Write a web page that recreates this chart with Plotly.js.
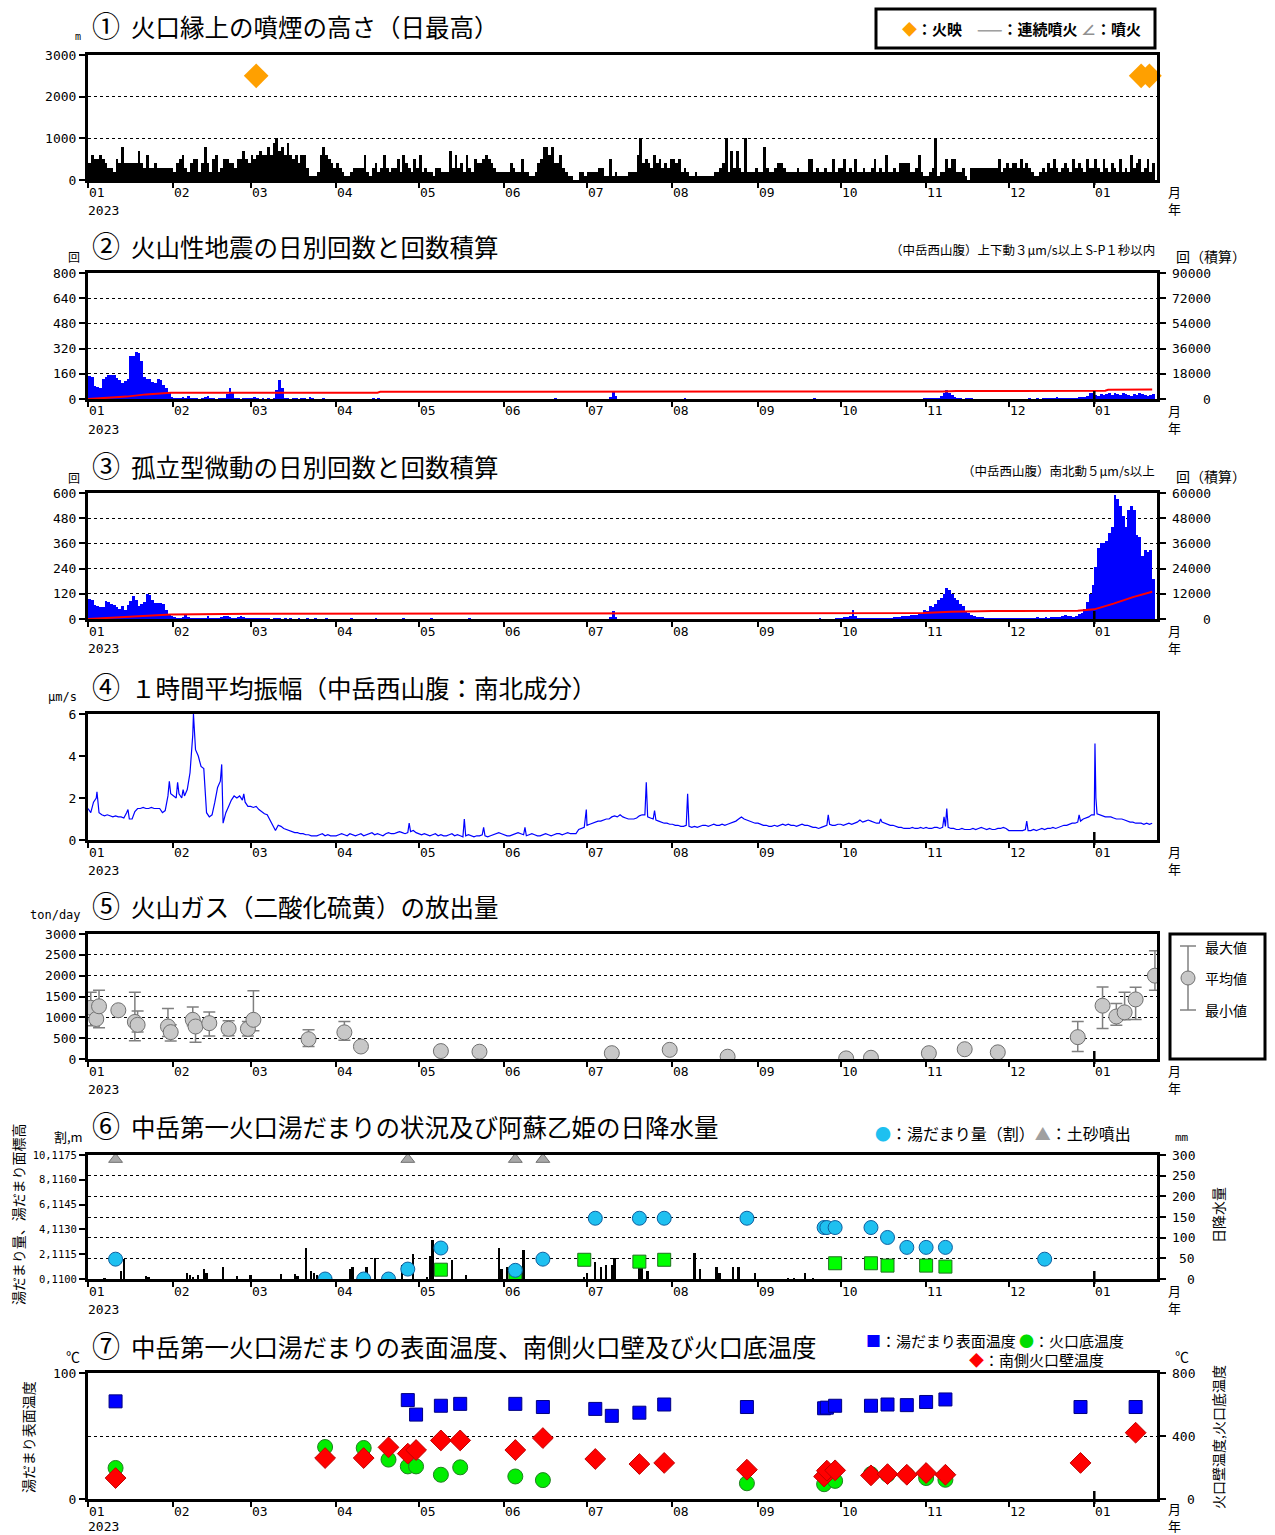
<!DOCTYPE html>
<html><head><meta charset="utf-8">
<script src="https://cdn.plot.ly/plotly-3.0.1.min.js"></script>
<style>body{margin:0;background:#fff}#chart{width:1275px;height:1535px}</style>
</head><body><div id="chart"></div>
<script>
// ---------- axis categories ----------
const monthKeys = ['2023-01','2023-02','2023-03','2023-04','2023-05','2023-06','2023-07','2023-08','2023-09','2023-10','2023-11','2023-12','2024-01'];
const monthTickVals = monthKeys.map(m => m + '-01');
const monthTickText = ['01','02','03','04','05','06','07','08','09','10','11','12','01'];

// ---------- ① plume height (daily max, m), by month ----------
const plumeHeight = [
 [400,600,500,500,600,500,400,300,300,200,500,400,800,400,400,400,400,400,700,400,300,600,300,300,400,300,300,300,300,300,300],
 [200,400,500,600,300,200,400,500,500,200,400,800,400,200,500,600,200,300,500,500,400,400,300,500,500,700,500,400],
 [600,500,600,700,600,600,800,600,900,1000,700,800,600,900,600,500,600,400,600,600,300,100,100,100,200,600,800,600,500,400,300],
 [400,300,200,100,100,200,300,300,300,300,600,200,100,300,400,200,300,600,300,200,300,300,500,200,600,400,300,200,500,300],
 [600,200,300,200,200,100,300,300,200,200,200,700,300,600,300,400,200,600,300,200,500,400,400,500,600,500,400,300,200,200,200],
 [200,200,400,300,200,200,500,200,200,100,100,200,400,500,800,800,600,800,400,400,600,300,200,100,100,0,0,200,200,100],
 [200,200,200,200,300,300,100,100,500,100,200,100,100,100,100,200,200,200,600,1000,400,500,400,300,600,400,500,300,400,300,500],
 [500,400,500,200,300,200,100,100,200,100,100,100,100,100,100,200,200,300,400,1000,200,700,300,700,300,200,1000,200,200,200,300],
 [200,200,800,300,200,200,300,400,400,300,200,200,200,200,300,200,200,200,500,500,200,300,200,200,300,200,200,500,200,300],
 [300,500,200,300,200,500,200,200,300,200,200,300,500,200,300,200,600,200,200,300,200,400,400,400,400,200,200,300,600,200,100],
 [100,200,300,1000,100,200,200,500,300,500,500,200,200,300,100,0,300,300,300,300,300,300,300,300,300,300,500,200,300,400],
 [300,400,400,300,500,300,400,300,200,100,100,200,300,200,400,300,500,300,200,300,400,300,200,500,300,400,300,200,500,300,300],
 [500,300,200,500,300,200,400,300,200,500,200,300,200,600,300,400,500,200,300,500,200,400]
];
const glowDates = ['2023-03-03','2024-01-18','2024-01-21'];
const glowHeight = [2500,2500,2500];

// ---------- ② volcanic earthquakes (daily count) ----------
const quakeCount = [
 [145,140,80,75,70,130,140,150,155,150,135,120,100,115,130,270,270,300,290,240,140,130,125,110,100,130,120,90,70,40,15],
 [8,5,6,10,5,20,6,4,5,3,4,15,18,6,4,3,5,6,5,30,70,40,5,4,3,6,8,5],
 [5,10,4,3,5,3,4,3,5,60,120,70,5,4,3,6,4,3,5,4,3,10,8,3,2,3,4,3,2,3,2],
 [2,3,2,2,3,2,2,3,2,2,3,2,2,4,3,5,3,2,2,3,2,2,3,2,2,3,2,2,3,2],
 [3,2,2,3,2,2,3,2,2,2,3,2,2,3,2,2,3,2,2,3,2,2,2,3,2,2,3,2,2,3,2],
 [2,2,3,2,2,3,2,2,3,2,2,3,2,2,3,2,2,3,5,3,2,2,3,2,2,3,2,2,3,2],
 [2,3,2,2,3,2,2,3,10,50,20,3,2,3,2,2,3,2,2,3,2,2,3,2,2,3,2,2,3,2,2],
 [2,3,2,2,5,2,2,3,2,2,3,2,2,3,2,2,3,2,2,3,2,2,3,2,2,3,2,2,3,2,2],
 [2,2,3,2,2,3,2,2,3,2,2,3,2,2,3,2,2,3,2,2,5,2,2,3,2,2,3,2,2,3],
 [2,3,2,2,3,2,2,3,2,2,3,2,2,3,2,2,3,2,2,3,2,2,3,2,2,3,2,2,3,2,5],
 [4,5,6,4,8,20,35,60,40,25,10,6,4,3,5,8,4,3,3,2,3,2,3,2,2,3,2,2,3,2],
 [3,2,3,2,3,2,3,4,3,3,4,3,5,6,4,5,8,10,6,5,7,6,5,8,7,10,12,15,20,35,40],
 [25,20,30,25,30,35,25,40,30,25,35,30,25,20,30,25,35,30,25,20,25,30]
];
const quakeCumDates = ['2023-01-01','2023-01-08','2023-01-15','2023-01-22','2023-01-31','2023-04-16','2023-04-17','2023-11-07','2023-11-12','2024-01-05','2024-01-06','2024-01-22'];
const quakeCumVals  = [0,700,1700,3300,4400,4500,5200,5300,5700,5900,6600,6800];

// ---------- ③ isolated tremor (daily count) ----------
const tremorCount = [
 [95,90,65,60,55,55,85,80,70,65,55,50,60,45,65,85,110,90,60,70,80,120,115,90,75,75,75,70,45,20,15],
 [8,6,5,10,20,8,5,4,6,5,4,6,15,5,4,6,5,10,12,15,8,6,5,10,12,8,5,4],
 [5,4,3,4,3,4,3,2,3,4,3,2,3,2,3,2,2,3,2,2,3,2,2,3,2,2,2,3,2,2,2],
 [2,1,2,1,2,3,1,2,1,2,1,2,1,2,3,1,2,1,2,1,2,1,2,1,3,1,2,1,2,1],
 [2,1,2,1,3,1,2,1,2,1,2,1,2,1,2,1,2,1,3,1,2,1,2,1,2,1,2,1,2,1,2],
 [1,2,1,2,1,2,1,2,1,2,1,2,1,2,1,2,1,2,1,2,1,2,1,2,1,2,1,2,1,2],
 [1,2,1,2,1,2,1,2,10,40,8,2,1,2,1,2,1,2,1,2,1,2,1,2,1,2,1,2,1,2,1],
 [1,2,1,2,1,2,1,2,1,2,1,2,1,2,1,2,1,2,1,2,1,2,1,2,1,2,1,2,1,2,1],
 [2,1,2,1,2,1,2,1,2,1,2,1,2,1,2,1,2,1,2,1,2,1,3,1,2,1,2,1,3,4],
 [5,8,10,12,45,15,6,5,4,5,4,5,4,6,5,4,5,6,5,8,10,10,15,15,15,20,20,20,25,30,45],
 [40,60,55,70,90,100,120,150,140,120,100,90,70,60,40,30,20,15,10,10,8,6,5,5,4,5,4,5,6,5],
 [5,6,5,6,5,4,5,6,5,6,8,7,6,8,7,8,10,8,10,12,20,15,12,10,15,25,30,50,80,120,160],
 [250,340,360,360,370,410,440,590,570,540,490,440,520,540,520,400,390,300,330,320,330,190]
];
const tremorCumDates = ['2023-01-01','2023-01-10','2023-01-20','2023-01-31','2023-03-01','2023-10-01','2023-10-31','2023-11-10','2023-11-25','2023-12-26','2024-01-01','2024-01-08','2024-01-15','2024-01-22'];
const tremorCumVals  = [0,700,1400,2200,2450,2550,2900,3500,3800,3900,4600,7300,10400,13000];

// ---------- ④ hourly mean amplitude (µm/s), daily readings + spikes ----------
const ampDaily = [
 [1.5,1.3,1.8,2.0,1.3,1.2,1.15,1.2,1.15,1.1,1.15,1.1,1.1,1.05,1.3,1.0,1.0,1.35,1.5,1.5,1.55,1.5,1.5,1.55,1.5,1.5,1.5,1.3,1.4,2.1,2.2],
 [2.1,2.0,2.2,2.0,2.1,2.4,3.2,5.0,4.3,4.0,3.5,3.4,1.3,1.1,1.2,1.8,2.5,2.8,0.8,1.3,1.6,1.9,2.1,2.0,2.1,1.9,1.8,1.6],
 [1.6,1.55,1.6,1.45,1.35,1.25,1.2,0.95,0.7,0.45,0.7,0.65,0.55,0.5,0.45,0.4,0.35,0.35,0.3,0.3,0.25,0.25,0.2,0.2,0.2,0.25,0.3,0.2,0.25,0.2,0.2],
 [0.2,0.25,0.3,0.25,0.2,0.3,0.25,0.2,0.25,0.3,0.2,0.25,0.3,0.35,0.25,0.3,0.25,0.2,0.3,0.35,0.3,0.3,0.35,0.4,0.35,0.3,0.35,0.4,0.45,0.35],
 [0.3,0.25,0.3,0.25,0.2,0.25,0.3,0.2,0.25,0.2,0.2,0.25,0.3,0.2,0.25,0.2,0.15,0.2,0.25,0.2,0.15,0.2,0.2,0.25,0.2,0.15,0.2,0.25,0.3,0.35,0.3],
 [0.25,0.2,0.2,0.25,0.3,0.35,0.3,0.25,0.2,0.25,0.3,0.25,0.2,0.2,0.25,0.3,0.25,0.2,0.25,0.3,0.3,0.25,0.3,0.35,0.3,0.3,0.3,0.5,0.55,0.6],
 [0.7,0.75,0.8,0.85,0.9,0.9,0.95,1.0,1.0,1.1,1.15,1.1,1.2,1.1,1.05,1.0,1.0,1.0,1.05,1.15,1.2,1.2,1.1,1.05,1.0,0.95,0.9,0.85,0.8,0.8,0.75],
 [0.75,0.7,0.7,0.65,0.65,0.7,0.65,0.6,0.65,0.6,0.65,0.7,0.7,0.65,0.7,0.75,0.7,0.7,0.75,0.7,0.75,0.8,0.85,0.9,1.0,1.1,1.0,0.95,0.9,0.85,0.8],
 [0.8,0.75,0.7,0.7,0.65,0.65,0.7,0.65,0.7,0.75,0.7,0.75,0.7,0.7,0.65,0.7,0.75,0.7,0.7,0.65,0.6,0.6,0.55,0.6,0.65,0.7,0.75,0.7,0.7,0.75],
 [0.75,0.7,0.75,0.8,0.75,0.8,0.85,0.95,0.85,0.9,0.95,0.9,0.85,0.8,0.8,0.85,0.8,0.75,0.7,0.7,0.65,0.6,0.6,0.55,0.55,0.55,0.6,0.55,0.55,0.6,0.55],
 [0.6,0.55,0.55,0.6,0.6,0.55,0.6,0.65,0.6,0.55,0.55,0.5,0.5,0.55,0.5,0.5,0.5,0.55,0.5,0.55,0.6,0.55,0.5,0.55,0.5,0.5,0.55,0.55,0.6,0.55],
 [0.45,0.45,0.45,0.45,0.45,0.45,0.5,0.45,0.45,0.5,0.45,0.5,0.55,0.5,0.55,0.55,0.6,0.55,0.6,0.65,0.7,0.7,0.75,0.8,0.8,0.85,0.9,1.0,1.05,1.1,1.2],
 [1.2,1.25,1.2,1.15,1.1,1.1,1.1,1.05,1.0,1.0,1.0,0.95,0.9,0.85,0.85,0.8,0.8,0.8,0.75,0.8,0.75,0.8]
];
const ampSpikeTimes = ['2023-01-04 06:00','2023-01-15 12:00','2023-01-30 12:00','2023-02-02 12:00','2023-02-04 12:00','2023-02-08 06:00','2023-02-08 18:00','2023-02-18 12:00','2023-02-26 12:00','2023-04-27 12:00','2023-05-17 12:00','2023-05-24 12:00','2023-06-08 12:00','2023-06-30 18:00','2023-07-22 12:00','2023-07-25 12:00','2023-08-06 12:00','2023-09-26 12:00','2023-10-15 12:00','2023-11-07 12:00','2023-11-08 12:00','2023-12-07 12:00','2023-12-26 12:00','2024-01-01 06:00','2024-01-01 14:00'];
const ampSpikeVals  = [2.3,1.45,2.8,2.75,2.4,6.0,5.1,3.6,2.2,0.8,1.0,0.6,0.6,1.45,2.75,1.4,2.2,1.2,1.0,1.1,1.5,0.9,1.2,4.6,2.0];

// ---------- ⑤ SO2 emission (ton/day) ----------
const so2Dates = ['2023-01-02','2023-01-04','2023-01-05','2023-01-12','2023-01-18','2023-01-19','2023-01-30','2023-01-31','2023-02-08','2023-02-09','2023-02-14','2023-02-21','2023-02-28','2023-03-02','2023-03-22','2023-04-04','2023-04-10','2023-05-09','2023-05-23','2023-07-10','2023-07-31','2023-08-21','2023-10-03','2023-10-12','2023-11-02','2023-11-15','2023-11-27','2023-12-26','2024-01-04','2024-01-09','2024-01-12','2024-01-16','2024-01-23'];
const so2Mean = [1230,960,1265,1170,890,820,780,645,940,780,860,725,725,940,475,640,300,190,175,140,220,55,15,30,140,235,160,525,1280,1020,1120,1430,2000];
const so2Max  = [1600,null,1650,null,1600,1150,1210,820,1250,900,1130,920,900,1640,700,900,null,null,null,null,null,null,null,null,null,null,null,900,1730,1330,1600,1720,2600];
const so2Min  = [800,null,750,null,440,650,540,430,800,400,550,560,550,680,300,450,null,null,null,null,null,null,null,null,null,null,null,180,730,810,940,950,1650];

// ---------- ⑥ crater lake status & rainfall ----------
const lakeDates = ['2023-01-11','2023-03-28','2023-04-11','2023-04-20','2023-04-27','2023-05-09','2023-06-05','2023-06-15','2023-07-04','2023-07-20','2023-07-29','2023-08-28','2023-09-25','2023-09-26','2023-09-29','2023-10-12','2023-10-18','2023-10-25','2023-11-01','2023-11-08','2023-12-14'];
const lakeAmount = [1.6,0,0,0,0.8,2.5,0.7,1.6,4.9,4.9,4.9,4.9,4.15,4.15,4.15,4.15,3.35,2.55,2.55,2.55,1.6];
const levelDates = ['2023-05-09','2023-06-05','2023-06-30','2023-07-20','2023-07-29','2023-09-29','2023-10-12','2023-10-18','2023-11-01','2023-11-08'];
const levelVals  = [0.75,0.45,1.55,1.4,1.55,1.27,1.27,1.08,1.08,1.0];
const mudDates = ['2023-01-11','2023-04-27','2023-06-05','2023-06-15'];
const mudVals  = [9.65,9.65,9.65,9.65];
const rainDates = ['2023-01-07','2023-01-13','2023-01-14','2023-01-22','2023-01-23','2023-02-06','2023-02-07','2023-02-08','2023-02-10','2023-02-12','2023-02-13','2023-02-19','2023-02-24','2023-03-01','2023-03-12','2023-03-17','2023-03-18','2023-03-21','2023-03-23','2023-03-24','2023-03-25','2023-03-27','2023-03-30','2023-04-06','2023-04-07','2023-04-12','2023-04-13','2023-04-15','2023-04-25','2023-04-29','2023-05-04','2023-05-05','2023-05-06','2023-05-13','2023-05-18','2023-05-30','2023-05-31','2023-06-02','2023-06-03','2023-06-05','2023-06-07','2023-06-08','2023-06-30','2023-07-01','2023-07-04','2023-07-06','2023-07-08','2023-07-10','2023-07-11','2023-07-20','2023-07-21','2023-07-23','2023-08-09','2023-08-11','2023-08-17','2023-08-18','2023-08-23','2023-08-25','2023-08-31','2023-09-12','2023-09-14','2023-09-18','2023-09-21'];
const rainVals  = [3,20,49,8,5,15,10,5,10,25,15,30,8,10,12,12,8,75,20,15,10,10,5,25,30,30,5,50,35,60,5,55,95,45,10,76,25,30,18,15,25,70,5,15,40,30,35,35,50,40,30,20,62,25,30,15,30,30,15,3,3,15,3];

// ---------- ⑦ temperatures ----------
const surfDates = ['2023-01-11','2023-04-27','2023-04-30','2023-05-09','2023-05-16','2023-06-05','2023-06-15','2023-07-04','2023-07-10','2023-07-20','2023-07-29','2023-08-28','2023-09-25','2023-09-26','2023-09-29','2023-10-12','2023-10-18','2023-10-25','2023-11-01','2023-11-08','2023-12-27','2024-01-16'];
const surfTemp  = [77.5,78.5,67,74,75.5,75.5,73,71.5,66,68.5,75,73,72,72.5,74,74,75,74.5,77,79,73,73];
const wallDates = ['2023-01-11','2023-03-28','2023-04-11','2023-04-20','2023-04-27','2023-04-30','2023-05-09','2023-05-16','2023-06-05','2023-06-15','2023-07-04','2023-07-20','2023-07-29','2023-08-28','2023-09-25','2023-09-26','2023-09-29','2023-10-12','2023-10-18','2023-10-25','2023-11-01','2023-11-08','2023-12-27','2024-01-16'];
const wallTemp  = [133,260,260,328,288,311,372,372,311,387,254,222,229,186,143,180,182,150,158,154,165,154,229,421];
const floorDates = ['2023-01-11','2023-03-28','2023-04-11','2023-04-20','2023-04-27','2023-04-30','2023-05-09','2023-05-16','2023-06-05','2023-06-15','2023-08-28','2023-09-25','2023-09-29','2023-10-12','2023-10-18','2023-10-25','2023-11-01','2023-11-08'];
const floorTemp  = [197,330,324,250,207,207,154,201,143,120,100,94,115,158,154,154,133,122];

// right-axis tick values
const cumQuakeTicks = [0,18000,36000,54000,72000,90000];
const cumTremorTicks = [0,12000,24000,36000,48000,60000];
const rainTicks = [0,50,100,150,200,250,300];
const wallTicks = [0,400,800];

// ================= build =================
const W = 1275, H = 1535;
const JP = '"Noto Sans CJK JP", sans-serif';
const MONO = '"DejaVu Sans Mono", monospace';
const X0 = 88, X1 = 1157;
const xRange = ['2023-01-01', '2024-01-23 18:00'];

function daily(nested) {
  const x = [], y = [];
  nested.forEach((arr, m) => arr.forEach((v, d) => { x.push(monthKeys[m] + '-' + String(d + 1).padStart(2, '0')); y.push(v); }));
  return {x, y};
}
const dom = (top, bot) => [1 - bot / H, 1 - top / H];
const P = [[55,180],[273,399],[493,619],[714,840],[934,1059],[1155,1279],[1373,1499]];
const XNAMES = ['x','x2','x3','x4','x5','x6','x7'];

const tickFont = {family: MONO, size: 13, color: '#000'};
function xAxis(anchor) {
  return {domain: [X0 / W, X1 / W], range: xRange, type: 'date', anchor,
    tickmode: 'array', tickvals: monthTickVals, ticktext: monthTickText, showticklabels: false,
    ticks: 'outside', ticklen: 5, tickwidth: 2, tickcolor: '#000',
    showline: true, linewidth: 3, linecolor: '#000', mirror: true,
    showgrid: false, zeroline: false, tickfont: tickFont, fixedrange: true};
}
function yAxis(p, range, tickvals, o) {
  return Object.assign({domain: dom(P[p][0], P[p][1]), range, tickmode: 'array', tickvals,
    ticks: 'outside', ticklen: 6, tickwidth: 2, tickcolor: '#000',
    showline: true, linewidth: 3, linecolor: '#000', mirror: true,
    showgrid: true, gridcolor: '#000', gridwidth: 1, griddash: 'dot',
    zeroline: false, tickfont: tickFont, fixedrange: true}, o || {});
}
function yRight(over, range, tickvals, o) {
  return Object.assign({overlaying: over, side: 'right', range, tickmode: 'array', tickvals, showticklabels: false,
    ticks: 'outside', ticklen: 6, tickwidth: 2, tickcolor: '#000',
    showline: true, linewidth: 3, linecolor: '#000',
    showgrid: false, zeroline: false, tickfont: tickFont, fixedrange: true}, o || {});
}

const plume = daily(plumeHeight), quake = daily(quakeCount), tremor = daily(tremorCount), ampD = daily(ampDaily);
const ampPts = ampD.x.map((t, i) => [t, ampD.y[i]]).concat(ampSpikeTimes.map((t, i) => [t, ampSpikeVals[i]]));
ampPts.sort((a, b) => a[0] < b[0] ? -1 : a[0] > b[0] ? 1 : 0);

const DAY = 86400000;
const traces = [
  {type: 'bar', x: plume.x, y: plume.y, xaxis: 'x', yaxis: 'y', marker: {color: '#000', line: {width: 0}}, xperiod: DAY, xperiodalignment: 'middle'},
  {type: 'scatter', mode: 'markers', x: glowDates, y: glowHeight, xaxis: 'x', yaxis: 'y', marker: {symbol: 'diamond', size: 19, color: '#ffa000'}, cliponaxis: false},

  {type: 'bar', x: quake.x, y: quake.y, xaxis: 'x2', yaxis: 'y2', marker: {color: '#0000ff', line: {width: 0}}, xperiod: DAY, xperiodalignment: 'middle'},
  {type: 'scatter', mode: 'lines', x: quakeCumDates, y: quakeCumVals, xaxis: 'x2', yaxis: 'y3', line: {color: '#ff0000', width: 2}},

  {type: 'bar', x: tremor.x, y: tremor.y, xaxis: 'x3', yaxis: 'y4', marker: {color: '#0000ff', line: {width: 0}}, xperiod: DAY, xperiodalignment: 'middle'},
  {type: 'scatter', mode: 'lines', x: tremorCumDates, y: tremorCumVals, xaxis: 'x3', yaxis: 'y5', line: {color: '#ff0000', width: 2}},

  {type: 'scatter', mode: 'lines', x: ampPts.map(p => p[0]), y: ampPts.map(p => p[1]), xaxis: 'x4', yaxis: 'y6', line: {color: '#0000ff', width: 1.2}},

  {type: 'scatter', mode: 'markers', x: so2Dates, y: so2Mean, xaxis: 'x5', yaxis: 'y7',
    marker: {symbol: 'circle', size: 15, color: '#c8c8c8', line: {color: '#707070', width: 1}},
    error_y: {type: 'data', symmetric: false,
      array: so2Mean.map((m, i) => so2Max[i] == null ? 0 : so2Max[i] - m),
      arrayminus: so2Mean.map((m, i) => so2Min[i] == null ? 0 : m - so2Min[i]),
      color: '#808080', thickness: 1.5, width: 6}},

  {type: 'bar', x: rainDates, y: rainVals, xaxis: 'x6', yaxis: 'y8', marker: {color: '#000', line: {width: 0}}, width: DAY * 0.85},
  {type: 'scatter', mode: 'markers', x: mudDates, y: mudVals, xaxis: 'x6', yaxis: 'y9', marker: {symbol: 'triangle-up', size: 12, color: '#a8a8a8', line: {color: '#707070', width: 1}}},
  {type: 'scatter', mode: 'markers', x: levelDates, y: levelVals, xaxis: 'x6', yaxis: 'y9', marker: {symbol: 'square', size: 13, color: '#00ff00', line: {color: '#207020', width: 1}}},
  {type: 'scatter', mode: 'markers', x: lakeDates, y: lakeAmount, xaxis: 'x6', yaxis: 'y9', marker: {symbol: 'circle', size: 14, color: '#1ec0f0', line: {color: '#1060a0', width: 1}}},

  {type: 'scatter', mode: 'markers', x: surfDates, y: surfTemp, xaxis: 'x7', yaxis: 'y10', marker: {symbol: 'square', size: 13, color: '#0000ff', line: {color: '#000080', width: 1}}},
  {type: 'scatter', mode: 'markers', x: floorDates, y: floorTemp, xaxis: 'x7', yaxis: 'y11', marker: {symbol: 'circle', size: 15, color: '#00ee00', line: {color: '#208020', width: 1}}},
  {type: 'scatter', mode: 'markers', x: wallDates, y: wallTemp, xaxis: 'x7', yaxis: 'y11', marker: {symbol: 'diamond', size: 16, color: '#ff0000', line: {color: '#c00000', width: 1}}}
];

function A(x, y, text, size, o) {
  return Object.assign({xref: 'paper', yref: 'paper', x: x / W, y: 1 - y / H, text, showarrow: false,
    xanchor: 'left', yanchor: 'middle', font: {family: JP, size: size || 14, color: '#000'}}, o || {});
}
function titleText(num, t) { return '<span style="font-size:28px">' + num + '</span>  ' + t; }

const annotations = [
  A(90, 25, titleText('①', '火口縁上の噴煙の高さ（日最高）'), 24.5),
  A(90, 245, titleText('②', '火山性地震の日別回数と回数積算'), 24.5),
  A(90, 465, titleText('③', '孤立型微動の日別回数と回数積算'), 24.5),
  A(90, 686, titleText('④', '１時間平均振幅（中岳西山腹：南北成分）'), 24.5),
  A(90, 905, titleText('⑤', '火山ガス（二酸化硫黄）の放出量'), 24.5),
  A(90, 1125, titleText('⑥', '中岳第一火口湯だまりの状況及び阿蘇乙姫の日降水量'), 24.5),
  A(90, 1345, titleText('⑦', '中岳第一火口湯だまりの表面温度、南側火口壁及び火口底温度'), 24.5),

  A(78, 37, 'm', 10, {xanchor: 'center', font: {family: MONO, size: 10, color: '#000'}}),
  A(1022, 28, '<b><span style="color:#ffa000">◆</span>：火映　<span style="color:#a0a0a0">——</span>：連続噴火 <span style="color:#909090">∠</span>：噴火</b>', 15, {xanchor: 'center'}),

  A(74, 257, '回', 12, {xanchor: 'center'}),
  A(1174, 256, '回（積算）', 14),
  A(1157, 250, '（中岳西山腹）上下動３μm/s以上 S-P１秒以内', 12.5, {xanchor: 'right'}),
  A(74, 477, '回', 12, {xanchor: 'center'}),
  A(1174, 476, '回（積算）', 14),
  A(1157, 470, '（中岳西山腹）南北動５μm/s以上', 12.5, {xanchor: 'right'}),

  A(63, 697, 'μm/s', 13, {xanchor: 'center', font: {family: MONO, size: 12, color: '#000'}}),
  A(55, 915, 'ton/day', 12, {xanchor: 'center', font: {family: MONO, size: 12, color: '#000'}}),

  A(1203, 947, '最大値', 14), A(1203, 978, '平均値', 14), A(1203, 1010, '最小値', 14),

  A(68, 1136, '割,m', 13, {xanchor: 'center'}),
  A(873, 1133, '<span style="color:#1ec0f0">●</span>：湯だまり量（割）<span style="color:#a0a0a0">▲</span>：土砂噴出', 16),
  A(1182, 1137, 'mm', 11, {xanchor: 'center', font: {family: MONO, size: 11, color: '#000'}}),
  A(18, 1215, '湯だまり量、湯だまり面標高', 14, {xanchor: 'center', textangle: -90}),
  A(1218, 1215, '日降水量', 14, {xanchor: 'center', textangle: -90}),

  A(73, 1356, '℃', 14, {xanchor: 'center'}),
  A(1182, 1356, '℃', 14, {xanchor: 'center'}),
  A(864, 1340, '<span style="color:#0000ff">■</span>：湯だまり表面温度 <span style="color:#00dd00">●</span>：火口底温度', 15),
  A(967, 1359, '<span style="color:#ff0000">◆</span>：南側火口壁温度', 15),
  A(28, 1437, '湯だまり表面温度', 14, {xanchor: 'center', textangle: -90}),
  A(1218, 1437, '火口壁温度,火口底温度', 14, {xanchor: 'center', textangle: -90})
];

// right-axis tick labels, right-aligned like the reference
function rightLabels(yref, vals, xRight) {
  vals.forEach(v => annotations.push({xref: 'paper', yref, x: xRight / W, y: v, text: String(v), showarrow: false,
    xanchor: 'right', yanchor: 'middle', font: {family: MONO, size: 13, color: '#000'}}));
}
rightLabels('y3', cumQuakeTicks, 1213);
rightLabels('y5', cumTremorTicks, 1213);
rightLabels('y8', rainTicks, 1197);
rightLabels('y11', wallTicks, 1197);

P.forEach(([top, bot], i) => {
  monthTickVals.forEach((d, k) => {
    annotations.push({xref: XNAMES[i], yref: 'paper', x: d, y: 1 - (bot + 12) / H, text: monthTickText[k],
      showarrow: false, xanchor: 'left', yanchor: 'middle', xshift: -1, font: {family: MONO, size: 13, color: '#000'}});
  });
  annotations.push(A(86, Math.min(bot + 30, 1526), '2023', 13, {font: {family: MONO, size: 13, color: '#000'}}));
  annotations.push(A(1166, Math.min(bot + 20, 1517), '月<br>年', 13));
});

function px(x) { return x / W; } function py(y) { return 1 - y / H; }
const shapes = [
  {type: 'rect', xref: 'paper', yref: 'paper', x0: px(876), x1: px(1155), y0: py(48), y1: py(9), line: {color: '#000', width: 3}},
  {type: 'rect', xref: 'paper', yref: 'paper', x0: px(1170), x1: px(1265), y0: py(1059), y1: py(934), line: {color: '#000', width: 3}},
  {type: 'line', xref: 'paper', yref: 'paper', x0: px(1188), x1: px(1188), y0: py(946), y1: py(1010), line: {color: '#808080', width: 1.5}},
  {type: 'line', xref: 'paper', yref: 'paper', x0: px(1180), x1: px(1196), y0: py(946), y1: py(946), line: {color: '#808080', width: 1.5}},
  {type: 'line', xref: 'paper', yref: 'paper', x0: px(1180), x1: px(1196), y0: py(1010), y1: py(1010), line: {color: '#808080', width: 1.5}},
  {type: 'circle', xref: 'paper', yref: 'paper', x0: px(1181), x1: px(1195), y0: py(985), y1: py(971), fillcolor: '#c8c8c8', line: {color: '#707070', width: 1}}
];
P.forEach(([top, bot], i) => {
  shapes.push({type: 'line', xref: XNAMES[i], yref: 'paper', x0: '2024-01-01', x1: '2024-01-01', y0: py(bot + 5), y1: py(bot - 8), line: {color: '#000', width: 2.5}});
});

const layout = {
  width: W, height: H, margin: {l: 0, r: 0, t: 0, b: 0},
  paper_bgcolor: '#fff', plot_bgcolor: '#fff', showlegend: false, bargap: 0,
  font: {family: JP, color: '#000'},
  xaxis: xAxis('y'), xaxis2: xAxis('y2'), xaxis3: xAxis('y4'), xaxis4: xAxis('y6'),
  xaxis5: xAxis('y7'), xaxis6: xAxis('y8'), xaxis7: xAxis('y10'),
  yaxis: yAxis(0, [0, 3000], [0, 1000, 2000, 3000], {anchor: 'x'}),
  yaxis2: yAxis(1, [0, 800], [0, 160, 320, 480, 640, 800], {anchor: 'x2'}),
  yaxis3: yRight('y2', [0, 90000], cumQuakeTicks, {anchor: 'x2'}),
  yaxis4: yAxis(2, [0, 600], [0, 120, 240, 360, 480, 600], {anchor: 'x3'}),
  yaxis5: yRight('y4', [0, 60000], cumTremorTicks, {anchor: 'x3'}),
  yaxis6: yAxis(3, [0, 6], [0, 2, 4, 6], {anchor: 'x4', showgrid: false}),
  yaxis7: yAxis(4, [0, 3000], [0, 500, 1000, 1500, 2000, 2500, 3000], {anchor: 'x5'}),
  yaxis8: yAxis(5, [0, 300], rainTicks, {anchor: 'x6', side: 'right', mirror: true, showticklabels: false}),
  yaxis9: yRight('y8', [0, 10], [0, 2, 4, 6, 8, 10], {anchor: 'x6', side: 'left', showticklabels: true,
    ticktext: ['0,1100', '2,1115', '4,1130', '6,1145', '8,1160', '10,1175'],
    tickfont: {family: MONO, size: 10.5, color: '#000'}}),
  yaxis10: yAxis(6, [0, 100], [0, 100], {anchor: 'x7', showgrid: false}),
  yaxis11: yRight('y10', [0, 800], wallTicks, {anchor: 'x7', showgrid: true, gridcolor: '#000', gridwidth: 1, griddash: 'dot'}),
  annotations, shapes
};

Plotly.newPlot('chart', traces, layout, {staticPlot: true, displayModeBar: false});
</script>
</body></html>
